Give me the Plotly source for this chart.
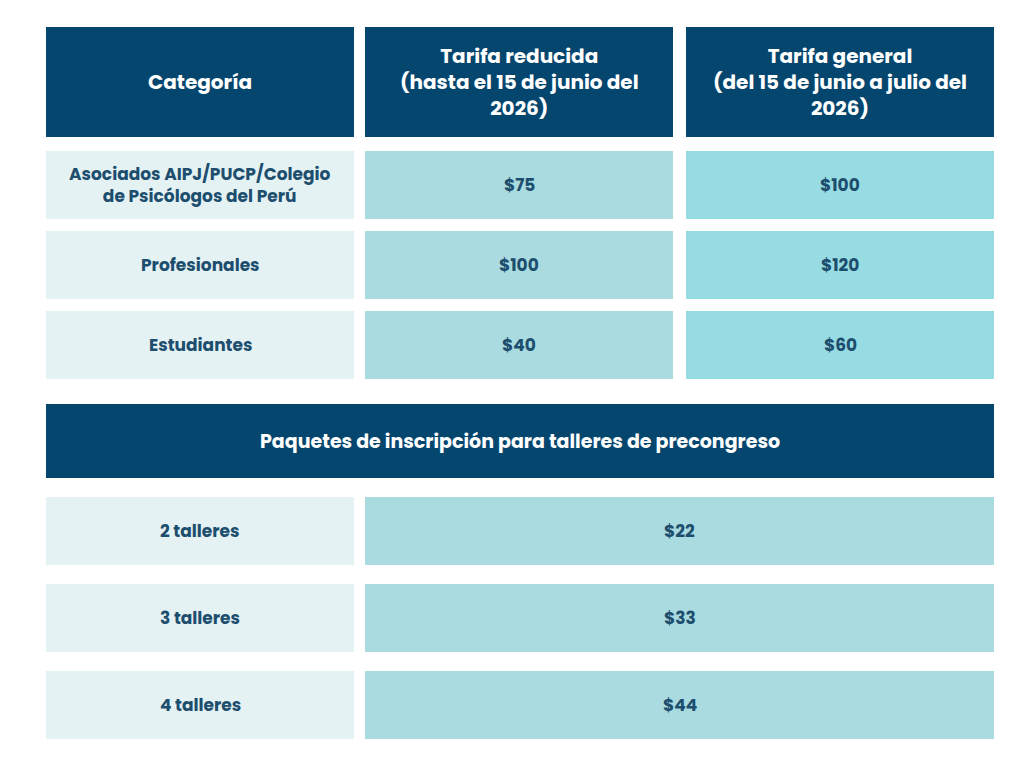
import plotly.graph_objects as go

# data
header = ["Categoría",
          "Tarifa reducida<br>(hasta el 15 de junio del<br>2026)",
          "Tarifa general<br>(del 15 de junio a julio del<br>2026)"]
categorias = ["Asociados AIPJ/PUCP/Colegio<br>de Psicólogos del Perú", "Profesionales", "Estudiantes"]
tarifa_reducida = ["$75", "$100", "$40"]
tarifa_general = ["$100", "$120", "$60"]
paquetes_titulo = "Paquetes de inscripción para talleres de precongreso"
paquetes = ["2 talleres", "3 talleres", "4 talleres"]
paquetes_precio = ["$22", "$33", "$44"]

NAVY = "#05466e"
TXT = "#1d4e6e"
C_CAT = "#e4f2f4"
C_RED = "#a9dbe0"
C_GEN = "#98dce3"
FONT = "Poppins, Lato, Open Sans, sans-serif"

cols = [(38, 346), (357, 665), (678, 986)]
rows = [(143, 211), (223, 291), (303, 371)]
prow = [(489, 557), (576, 644), (663, 731)]

fig = go.Figure()
shapes, ann = [], []

def cell(x0, x1, y0, y1, color, text, tcolor, size):
    shapes.append(dict(type="rect", xref="x", yref="y", x0=x0, x1=x1, y0=y0, y1=y1,
                       fillcolor=color, line=dict(width=0), layer="below"))
    ann.append(dict(x=(x0 + x1) / 2, y=(y0 + y1) / 2, xref="x", yref="y", text="<b>%s</b>" % text,
                    showarrow=False, font=dict(family=FONT, size=size, color=tcolor)))

for (x0, x1), h in zip(cols, header):
    cell(x0, x1, 19, 129, NAVY, h, "white", 20)
for (y0, y1), c, r, g in zip(rows, categorias, tarifa_reducida, tarifa_general):
    cell(cols[0][0], cols[0][1], y0, y1, C_CAT, c, TXT, 17)
    cell(cols[1][0], cols[1][1], y0, y1, C_RED, r, TXT, 17)
    cell(cols[2][0], cols[2][1], y0, y1, C_GEN, g, TXT, 17)
cell(38, 986, 396, 470, NAVY, paquetes_titulo, "white", 19)
for (y0, y1), p, v in zip(prow, paquetes, paquetes_precio):
    cell(cols[0][0], cols[0][1], y0, y1, C_CAT, p, TXT, 17)
    cell(cols[1][0], cols[2][1], y0, y1, C_RED, v, TXT, 17)

fig.update_layout(width=1024, height=768, margin=dict(l=0, r=0, t=0, b=0),
                  paper_bgcolor="white", plot_bgcolor="white",
                  shapes=shapes, annotations=ann, showlegend=False,
                  xaxis=dict(range=[0, 1024], visible=False, fixedrange=True),
                  yaxis=dict(range=[768, 0], visible=False, fixedrange=True))
fig.write_html("out.html", config={"displayModeBar": False})
